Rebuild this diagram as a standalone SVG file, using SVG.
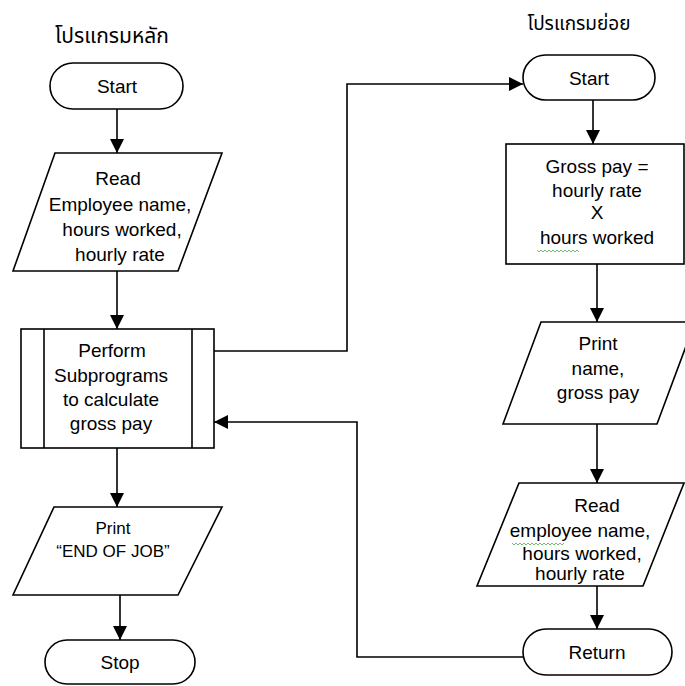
<svg xmlns="http://www.w3.org/2000/svg" width="685" height="686" viewBox="0 0 685 686">
  <style>
    .shape { fill: #ffffff; stroke: #000000; stroke-width: 1.6; }
    .line { fill: none; stroke: #000000; stroke-width: 1.6; }
    .label { font-family: "Liberation Sans", Arial, sans-serif; font-size: 19px; fill: #000000; text-anchor: middle; }
    .small { font-size: 17px; }
    .title { font-family: "Noto Sans Thai", "Noto Sans", "DejaVu Sans", sans-serif; font-size: 19px; fill: #000000; text-anchor: middle; }
    .squiggle { fill: none; stroke: #6fbf6f; stroke-width: 1; }
  </style>
  <defs>
    <marker id="arrow" markerUnits="userSpaceOnUse" markerWidth="14" markerHeight="14" viewBox="0 0 14 14" refX="14" refY="7" orient="auto">
      <path d="M0,0 L14,7 L0,14 Z" fill="#000000"/>
    </marker>
  </defs>
  <rect width="685" height="686" fill="#ffffff"/>

  <!-- section headings -->
  <text class="title" x="112" y="43" style="font-size:21px">โปรแกรมหลัก</text>
  <text class="title" x="579" y="30">โปรแกรมย่อย</text>

  <!-- connectors -->
  <g id="connectors">
    <path class="line" d="M117,109 V153" marker-end="url(#arrow)"/>
    <path class="line" d="M117,271 V329" marker-end="url(#arrow)"/>
    <path class="line" d="M117,448 V507" marker-end="url(#arrow)"/>
    <path class="line" d="M120,595 V640" marker-end="url(#arrow)"/>
    <path class="line" d="M214,351 H347 V84 H523" marker-end="url(#arrow)"/>
    <path class="line" d="M593,100 V144" marker-end="url(#arrow)"/>
    <path class="line" d="M597,264 V322" marker-end="url(#arrow)"/>
    <path class="line" d="M597,424 V483" marker-end="url(#arrow)"/>
    <path class="line" d="M597,586 V629" marker-end="url(#arrow)"/>
    <path class="line" d="M523,657 H357 V422 H214" marker-end="url(#arrow)"/>
  </g>

  <!-- main program -->
  <g id="main-start">
    <rect class="shape" x="50" y="63" width="133" height="46" rx="23"/>
    <text class="label" x="117" y="93">Start</text>
  </g>

  <g id="main-read">
    <polygon class="shape" points="55,153 222,153 178,271 13,271"/>
    <text class="label" x="118" y="185">Read</text>
    <text class="label" x="120" y="211">Employee name,</text>
    <text class="label" x="122" y="236">hours worked,</text>
    <text class="label" x="120" y="261">hourly rate</text>
  </g>

  <g id="main-perform">
    <rect class="shape" x="21" y="329" width="193" height="119"/>
    <line class="line" x1="44" y1="329" x2="44" y2="448"/>
    <line class="line" x1="192" y1="329" x2="192" y2="448"/>
    <text class="label" x="112" y="357">Perform</text>
    <text class="label" x="111" y="382">Subprograms</text>
    <text class="label" x="111" y="406">to calculate</text>
    <text class="label" x="111" y="430">gross pay</text>
  </g>

  <g id="main-print">
    <polygon class="shape" points="54,507 222,507 178,595 13,595"/>
    <text class="label small" x="113" y="534">Print</text>
    <text class="label small" x="113" y="557">“END OF JOB”</text>
  </g>

  <g id="main-stop">
    <rect class="shape" x="45" y="640" width="150" height="44" rx="22"/>
    <text class="label" x="120" y="669">Stop</text>
  </g>

  <!-- subprogram -->
  <g id="sub-start">
    <rect class="shape" x="523" y="55" width="132" height="45" rx="22.5"/>
    <text class="label" x="589" y="85">Start</text>
  </g>

  <g id="sub-gross">
    <rect class="shape" x="506" y="144" width="178" height="120"/>
    <text class="label" x="597" y="173">Gross pay =</text>
    <text class="label" x="597" y="197">hourly rate</text>
    <text class="label" x="597" y="219">X</text>
    <text class="label" x="597" y="244">hours worked</text>
    <path class="squiggle" d="M537,250 l2,2 l2,-2 l2,2 l2,-2 l2,2 l2,-2 l2,2 l2,-2 l2,2 l2,-2 l2,2 l2,-2 l2,2 l2,-2 l2,2 l2,-2 l2,2 l2,-2 l2,2 l2,-2 l2,2"/>
  </g>

  <g id="sub-print">
    <polygon class="shape" points="541,322 695,322 657,424 503,424"/>
    <text class="label" x="598" y="350">Print</text>
    <text class="label" x="598" y="375">name,</text>
    <text class="label" x="598" y="399">gross pay</text>
  </g>

  <g id="sub-read">
    <polygon class="shape" points="519,483 684,483 643,586 477,586"/>
    <text class="label" x="597" y="512">Read</text>
    <text class="label" x="580" y="537">employee name,</text>
    <text class="label" x="582" y="560">hours worked,</text>
    <text class="label" x="580" y="580">hourly rate</text>
    <path class="squiggle" d="M512,543 l2,2 l2,-2 l2,2 l2,-2 l2,2 l2,-2 l2,2 l2,-2 l2,2 l2,-2 l2,2 l2,-2 l2,2 l2,-2 l2,2 l2,-2 l2,2 l2,-2 l2,2 l2,-2 l2,2 l2,-2 l2,2 l2,-2 l2,2 l2,-2"/>
  </g>

  <g id="sub-return">
    <rect class="shape" x="523" y="629" width="149" height="46" rx="23"/>
    <text class="label" x="597" y="659">Return</text>
  </g>
</svg>
